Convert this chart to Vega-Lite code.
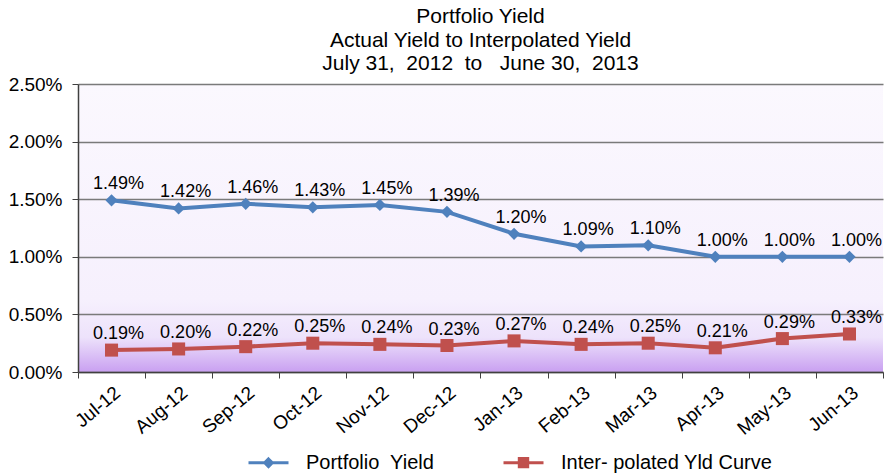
{
  "$schema": "https://vega.github.io/schema/vega-lite/v6.json",
  "width": 805,
  "height": 288,
  "autosize": {"type": "none"},
  "padding": {"left": 78, "top": 84, "right": 2, "bottom": 103},
  "background": "white",
  "title": {
    "text": ["Portfolio Yield", "Actual Yield to Interpolated Yield", "July 31,\u00a0 2012\u00a0 to\u00a0\u00a0 June 30,\u00a0 2013"],
    "font": "Liberation Sans",
    "fontSize": 21,
    "fontWeight": "normal",
    "color": "black",
    "lineHeight": 23.5,
    "anchor": "middle",
    "offset": 1
  },
  "config": {
    "view": {
      "stroke": null,
      "fill": {
        "gradient": "linear", "x1": 0, "y1": 0, "x2": 0, "y2": 1,
        "stops": [
          {"offset": 0, "color": "#fbf8fe"},
          {"offset": 0.75, "color": "#f6f0fd"},
          {"offset": 0.88, "color": "#ede2fb"},
          {"offset": 1, "color": "#c9a0f1"}
        ]
      }
    },
    "axis": {"labelFont": "Liberation Sans", "labelFontSize": 19, "labelColor": "black"}
  },
  "data": {
    "values": [
      {"month": "Jul-12", "series": "Portfolio Yield", "value": 0.0149},
      {"month": "Aug-12", "series": "Portfolio Yield", "value": 0.0142},
      {"month": "Sep-12", "series": "Portfolio Yield", "value": 0.0146},
      {"month": "Oct-12", "series": "Portfolio Yield", "value": 0.0143},
      {"month": "Nov-12", "series": "Portfolio Yield", "value": 0.0145},
      {"month": "Dec-12", "series": "Portfolio Yield", "value": 0.0139},
      {"month": "Jan-13", "series": "Portfolio Yield", "value": 0.0120},
      {"month": "Feb-13", "series": "Portfolio Yield", "value": 0.0109},
      {"month": "Mar-13", "series": "Portfolio Yield", "value": 0.0110},
      {"month": "Apr-13", "series": "Portfolio Yield", "value": 0.0100},
      {"month": "May-13", "series": "Portfolio Yield", "value": 0.0100},
      {"month": "Jun-13", "series": "Portfolio Yield", "value": 0.0100},
      {"month": "Jul-12", "series": "Inter- polated Yld Curve", "value": 0.0019},
      {"month": "Aug-12", "series": "Inter- polated Yld Curve", "value": 0.0020},
      {"month": "Sep-12", "series": "Inter- polated Yld Curve", "value": 0.0022},
      {"month": "Oct-12", "series": "Inter- polated Yld Curve", "value": 0.0025},
      {"month": "Nov-12", "series": "Inter- polated Yld Curve", "value": 0.0024},
      {"month": "Dec-12", "series": "Inter- polated Yld Curve", "value": 0.0023},
      {"month": "Jan-13", "series": "Inter- polated Yld Curve", "value": 0.0027},
      {"month": "Feb-13", "series": "Inter- polated Yld Curve", "value": 0.0024},
      {"month": "Mar-13", "series": "Inter- polated Yld Curve", "value": 0.0025},
      {"month": "Apr-13", "series": "Inter- polated Yld Curve", "value": 0.0021},
      {"month": "May-13", "series": "Inter- polated Yld Curve", "value": 0.0029},
      {"month": "Jun-13", "series": "Inter- polated Yld Curve", "value": 0.0033}
    ]
  },
  "encoding": {
    "x": {
      "field": "month", "type": "nominal", "sort": null, "title": null,
      "axis": {"labelAngle": -40, "labelAlign": "right", "labelBaseline": "top", "tickBand": "extent", "domainColor": "#404040", "tickColor": "#404040", "tickSize": 6, "labelPadding": 5, "domainWidth": 1.5}
    },
    "y": {
      "field": "value", "type": "quantitative", "title": null,
      "scale": {"domain": [0, 0.025], "nice": false},
      "axis": {"values": [0, 0.005, 0.01, 0.015, 0.02, 0.025], "format": ".2%", "gridColor": "#7a7a7a", "gridWidth": 1.5, "domainColor": "#404040", "tickColor": "#404040", "tickSize": 6, "labelPadding": 10, "domainWidth": 1.5}
    }
  },
  "layer": [
    {
      "mark": {"type": "line", "strokeWidth": 4},
      "encoding": {
        "color": {
          "field": "series", "type": "nominal",
          "scale": {"domain": ["Portfolio Yield", "Inter- polated Yld Curve"], "range": ["#4f81bd", "#c0504d"]},
          "legend": {
            "title": null, "orient": "none", "direction": "horizontal",
            "legendX": 179, "legendY": 367, "padding": 0,
            "labelFont": "Liberation Sans", "labelFontSize": 20, "labelColor": "black", "labelLimit": 400,
            "labelExpr": "datum.label === 'Portfolio Yield' ? 'Portfolio\u00a0 Yield' : datum.label",
            "symbolSize": 400, "labelOffset": 26, "columnPadding": 62,
            "encode": {
              "symbols": {
                "update": {
                  "shape": {"signal": "datum.value === 'Portfolio Yield' ? 'M-2,0H2M0,-0.38L0.38,0L0,0.38L-0.38,0Z' : 'M-2,0H2M-0.42,-0.42H0.42V0.42H-0.42Z'"},
                  "strokeWidth": {"value": 3},
                  "fill": {"scale": "color", "field": "value"},
                  "stroke": {"scale": "color", "field": "value"}
                }
              }
            }
          }
        }
      }
    },
    {
      "transform": [{"filter": "datum.series === 'Portfolio Yield'"}],
      "mark": {"type": "point", "filled": true, "size": 150, "opacity": 1, "shape": "diamond"},
      "encoding": {"color": {"field": "series", "type": "nominal", "legend": null}}
    },
    {
      "transform": [{"filter": "datum.series !== 'Portfolio Yield'"}],
      "mark": {"type": "point", "filled": true, "size": 170, "opacity": 1, "shape": "square"},
      "encoding": {"color": {"field": "series", "type": "nominal", "legend": null}}
    },
    {
      "mark": {"type": "text", "dy": -16, "dx": 7, "font": "Liberation Sans", "fontSize": 18, "color": "black"},
      "encoding": {
        "text": {"field": "value", "type": "quantitative", "format": ".2%"}
      }
    }
  ]
}
